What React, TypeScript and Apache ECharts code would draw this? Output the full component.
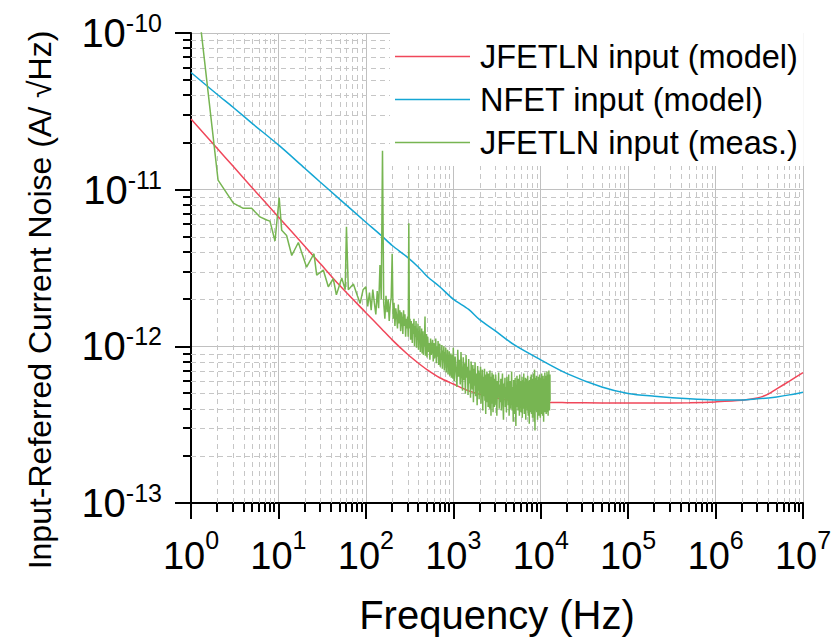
import React, { useEffect, useRef } from 'react';
import * as echarts from 'echarts';

// ---- data ----
const modelFreq = [1, 2, 3, 5, 10, 20, 30, 50, 100, 150, 200, 300, 400, 500, 700, 1000, 1500, 2000, 3000, 5000, 1e4, 2e4, 5e4, 1e5, 2e5, 5e5, 1e6, 2e6, 3e6, 4e6, 5e6, 7e6, 1e7];
const jfetModel = [2.83e-11, 1.83e-11, 1.42e-11, 1.03e-11, 6.7e-12, 4.35e-12, 3.38e-12, 2.45e-12, 1.64e-12, 1.3e-12, 1.1e-12, 8.9e-13, 7.8e-13, 7.1e-13, 6.3e-13, 5.75e-13, 5.2e-13, 4.95e-13, 4.7e-13, 4.5e-13, 4.4e-13, 4.37e-13, 4.35e-13, 4.35e-13, 4.35e-13, 4.37e-13, 4.42e-13, 4.52e-13, 4.68e-13, 4.95e-13, 5.35e-13, 6.0e-13, 6.8e-13];
const nfetModel = [5.6e-11, 4.05e-11, 3.37e-11, 2.65e-11, 1.93e-11, 1.37e-11, 1.12e-11, 8.7e-12, 6.2e-12, 5.1e-12, 4.4e-12, 3.7e-12, 3.2e-12, 2.8e-12, 2.4e-12, 2.0e-12, 1.72e-12, 1.48e-12, 1.26e-12, 1.02e-12, 8.2e-13, 6.7e-13, 5.5e-13, 5.0e-13, 4.8e-13, 4.62e-13, 4.55e-13, 4.55e-13, 4.62e-13, 4.68e-13, 4.75e-13, 4.9e-13, 5.1e-13];

// measured spectrum, low-frequency part: [Hz, A/sqrt(Hz)]
const measLow: [number, number][] = [
  [1.12, 2.2e-10], [2.04, 1.15e-11], [3.05, 8.2e-12], [3.96, 7.6e-12], [4.94, 7.6e-12], [6.15, 6.7e-12],
  [7.34, 6.4e-12], [8.0, 6.3e-12], [9.14, 4.7e-12], [10.2, 8.9e-12], [10.9, 5.5e-12], [12.4, 5.1e-12],
  [14.2, 3.8e-12], [16.9, 4.6e-12], [21, 3.2e-12], [25.5, 3.9e-12], [27.4, 2.85e-12], [32.6, 3.07e-12],
  [37.2, 2.4e-12], [42.4, 2.7e-12], [46, 2.13e-12], [53, 2.73e-12], [58, 2.3e-12], [60, 5.8e-12],
  [63, 2.3e-12], [72, 2.5e-12], [80, 2.1e-12], [86, 1.88e-12], [93, 2.3e-12],
];

// measured spectrum, FFT bins (values in pA/sqrt(Hz))
const binA_start = 100, binA_step = 5;
const binA_pA = [
  2.4, 1.8, 2.2, 1.7, 2.3, 1.9, 1.6, 2.25, 1.75, 3.3,
  2.0, 17.7, 1.9, 1.5, 2.1, 1.65, 2.0, 1.45, 1.85, 2.05,
  3.9, 1.5, 1.9, 1.35, 1.75, 1.55, 1.3, 1.85, 1.4, 1.7,
  1.25, 1.65, 1.45, 1.2, 1.7, 1.35, 1.6, 1.15, 1.5, 1.3,
  1.55, 1.15, 6.1, 1.3, 1.5, 1.1, 1.45, 1.25, 1.05, 1.4,
  1.2, 1.5, 1.0, 1.35, 1.15, 1.45, 0.98, 1.3, 1.1, 1.4,
  0.95, 1.25, 1.05, 1.35, 0.92, 1.2, 1.0, 1.3, 0.9, 1.15,
  1.25, 0.88, 1.1, 1.0, 1.2, 1.55, 0.87, 1.15, 0.95, 1.2,
];
const binB_start = 500, binB_step = 10;
const binB_pA = [
  0.85, 1.15, 0.92, 1.05, 0.82, 1.12, 0.88, 0.97, 1.1, 0.8,
  1.05, 0.84, 0.95, 1.12, 0.78, 1.0, 0.86, 1.08, 0.76, 0.96,
  1.04, 0.74, 0.9, 0.82, 1.02, 0.72, 0.94, 0.8, 1.0, 0.7,
  0.92, 0.78, 0.98, 0.68, 0.88, 0.76, 0.95, 0.66, 0.86, 0.74,
  0.93, 0.65, 0.84, 0.72, 0.9, 0.63, 0.82, 0.7, 0.88, 0.62,
];
const binC_start = 1000, binC_step = 25;
const binC_pA = [
  0.98, 0.6, 0.86, 0.7, 0.55, 0.95, 0.64, 0.82, 0.57, 0.92,
  0.66, 0.52, 0.85, 0.61, 0.78, 0.5, 0.88, 0.63, 0.74, 0.49,
  0.83, 0.58, 0.7, 0.47, 0.8, 0.62, 0.53, 0.76, 0.44, 0.72,
  0.56, 0.79, 0.48, 0.67, 0.6, 0.42, 0.75, 0.52, 0.7, 0.46,
  0.68, 0.5, 0.74, 0.43, 0.62, 0.55, 0.71, 0.39, 0.64, 0.48,
  0.58, 0.72, 0.45, 0.61, 0.37, 0.66, 0.52, 0.69, 0.44, 0.57,
  0.41, 0.67, 0.53, 0.63, 0.4, 0.7, 0.48, 0.59, 0.36, 0.64,
  0.5, 0.68, 0.43, 0.6, 0.38, 0.66, 0.47, 0.62, 0.41, 0.58,
];
const binD_start = 3000, binD_step = 50;
const binD_pA = [
  0.42, 0.66, 0.55, 0.36, 0.6, 0.47, 0.68, 0.4, 0.57, 0.44,
  0.62, 0.39, 0.52, 0.67, 0.45, 0.34, 0.58, 0.49, 0.63, 0.41,
  0.55, 0.38, 0.64, 0.47, 0.59, 0.42, 0.66, 0.36, 0.53, 0.6,
  0.4, 0.57, 0.45, 0.69, 0.39, 0.55, 0.48, 0.33, 0.61, 0.46,
  0.58, 0.37, 0.63, 0.44, 0.31, 0.56, 0.5, 0.65, 0.41, 0.54,
  0.39, 0.62, 0.47, 0.57, 0.36, 0.66, 0.43, 0.52, 0.6, 0.38,
  0.55, 0.44, 0.64, 0.35, 0.58, 0.48, 0.61, 0.4, 0.67, 0.45,
  0.37, 0.59, 0.51, 0.42, 0.63, 0.34, 0.56, 0.46, 0.62, 0.41,
  0.57, 0.39, 0.65, 0.48, 0.36, 0.6, 0.44, 0.55, 0.32, 0.61,
  0.47, 0.58, 0.38, 0.64, 0.43, 0.53, 0.66, 0.37, 0.56, 0.45,
  0.62, 0.35, 0.5, 0.59, 0.41, 0.67, 0.46, 0.54, 0.33, 0.6,
  0.71, 0.44, 0.29, 0.57, 0.48, 0.63, 0.39, 0.55, 0.42, 0.65,
  0.38, 0.58, 0.47, 0.61, 0.34, 0.56, 0.43, 0.64, 0.4, 0.52,
  0.6, 0.36, 0.55, 0.45, 0.66, 0.39, 0.49, 0.62, 0.35, 0.57,
  0.44, 0.63, 0.41, 0.54, 0.37, 0.67, 0.47, 0.58, 0.4, 0.61,
  0.36, 0.55, 0.48, 0.65, 0.42, 0.59, 0.33, 0.56, 0.46, 0.62,
  0.39, 0.6, 0.45, 0.68, 0.38, 0.53, 0.63, 0.41, 0.57, 0.44,
  0.65, 0.37, 0.58, 0.47, 0.61, 0.4, 0.69, 0.43, 0.55, 0.38,
  0.62, 0.45, 0.57, 0.36, 0.66, 0.48, 0.59, 0.41, 0.7, 0.5,
  0.44, 0.63, 0.39, 0.58, 0.47, 0.66, 0.45,
];
const PICO = 1e-12;

const seriesNames = ['JFETLN input (model)', 'NFET input (model)', 'JFETLN input (meas.)'];
const seriesColors = ['#f0475a', '#14a6d4', '#77b552'];

const X_MIN = 1;
const X_MAX = 1e7;
const Y_MIN = 1e-13;
const Y_MAX = 1e-10;
const minorMultipliers = [2, 3, 4, 5, 6, 7, 8, 9];
const xDecades = [1, 10, 100, 1e3, 1e4, 1e5, 1e6];
const yDecades = [1e-13, 1e-12, 1e-11];

const FONT = "'Liberation Sans', Arial, Helvetica, sans-serif";
const NARROW = "'Liberation Sans Narrow', 'Arial Narrow', 'Liberation Sans', Arial, sans-serif";

function binsToPairs(start: number, step: number, vals: number[]): [number, number][] {
  return vals.map((v, i) => [start + i * step, v * PICO] as [number, number]);
}

export default function App() {
  const ref = useRef<HTMLDivElement>(null);

  useEffect(() => {
    if (!ref.current) return;
    const chart = echarts.init(ref.current, null, { renderer: 'svg' });

    const measured: [number, number][] = [
      ...measLow,
      ...binsToPairs(binA_start, binA_step, binA_pA),
      ...binsToPairs(binB_start, binB_step, binB_pA),
      ...binsToPairs(binC_start, binC_step, binC_pA),
      ...binsToPairs(binD_start, binD_step, binD_pA),
    ];

    const xMinor: number[][] = [];
    xDecades.forEach((d) => minorMultipliers.forEach((m) => xMinor.push([d * m, Y_MIN])));
    const yMinor: number[][] = [];
    yDecades.forEach((d) => minorMultipliers.forEach((m) => yMinor.push([X_MIN, d * m])));

    const gridDash = { stroke: '#c6c6c6', lineWidth: 1, lineDash: [5, 4] };

    const option: any = {
      animation: false,
      backgroundColor: '#ffffff',
      grid: { left: 191, top: 33, width: 612, height: 470, containLabel: false },
      legend: {
        data: seriesNames,
        orient: 'vertical',
        left: 390,
        top: 33,
        padding: [7, 6, 7, 5],
        backgroundColor: '#ffffff',
        itemGap: 10,
        itemWidth: 75,
        itemHeight: 1.5,
        icon: 'rect',
        selectedMode: false,
        textStyle: { fontSize: 32.5, lineHeight: 31, fontFamily: FONT, color: '#000', padding: [0, 0, 0, 5] },
      },
      xAxis: {
        type: 'log',
        logBase: 10,
        min: X_MIN,
        max: X_MAX,
        splitNumber: 7,
        name: 'Frequency (Hz)',
        nameLocation: 'middle',
        nameGap: 92,
        nameTextStyle: { fontSize: 40, fontFamily: FONT, color: '#000' },
        axisLine: { show: true, onZero: false, lineStyle: { color: '#000', width: 2 } },
        axisTick: { show: true, inside: false, length: 16, lineStyle: { color: '#000', width: 2 } },
        splitLine: { show: true, lineStyle: { color: '#c0c0c0', width: 1 } },
        axisLabel: {
          margin: 24,
          formatter: (v: number) => `{b|10}{s|${Math.round(Math.log10(v))}}`,
          rich: {
            b: { fontSize: 38, lineHeight: 58, fontFamily: NARROW, color: '#000' },
            s: { fontSize: 25, lineHeight: 25, fontFamily: NARROW, color: '#000', verticalAlign: 'top' },
          },
        },
      },
      yAxis: {
        type: 'log',
        logBase: 10,
        min: Y_MIN,
        max: Y_MAX,
        splitNumber: 3,
        axisLine: { show: true, onZero: false, lineStyle: { color: '#000', width: 2 } },
        axisTick: { show: true, inside: false, length: 16, lineStyle: { color: '#000', width: 2 } },
        splitLine: { show: true, lineStyle: { color: '#c0c0c0', width: 1 } },
        axisLabel: {
          margin: 29,
          formatter: (v: number) => `{b|10}{s|${Math.round(Math.log10(v))}}`,
          rich: {
            b: { fontSize: 40, lineHeight: 45, fontFamily: FONT, color: '#000' },
            s: { fontSize: 25, lineHeight: 25, fontFamily: FONT, color: '#000', verticalAlign: 'top' },
          },
        },
      },
      graphic: [
        {
          type: 'text',
          x: 40,
          y: 300,
          rotation: Math.PI / 2,
          style: {
            text: 'Input-Referred Current Noise (A/ \u221AHz)',
            fontSize: 32,
            fontFamily: FONT,
            fill: '#000',
            align: 'center',
            verticalAlign: 'middle',
          },
        },
      ],
      series: [
        {
          type: 'custom',
          z: 1,
          silent: true,
          data: xMinor,
          renderItem: (_p: any, api: any) => {
            const v = api.value(0);
            const a = api.coord([v, Y_MIN]);
            const b = api.coord([v, Y_MAX]);
            const x = Math.round(a[0]) + 0.5;
            const xt = Math.round(a[0]);
            return {
              type: 'group',
              children: [
                { type: 'line', shape: { x1: x, y1: a[1], x2: x, y2: b[1] }, style: gridDash },
                { type: 'line', shape: { x1: xt, y1: a[1], x2: xt, y2: a[1] + 9 }, style: { stroke: '#000', lineWidth: 2 } },
              ],
            };
          },
        },
        {
          type: 'custom',
          z: 1,
          silent: true,
          data: yMinor,
          renderItem: (_p: any, api: any) => {
            const v = api.value(1);
            const a = api.coord([X_MIN, v]);
            const b = api.coord([X_MAX, v]);
            const y = Math.round(a[1]) + 0.5;
            const yt = Math.round(a[1]);
            return {
              type: 'group',
              children: [
                { type: 'line', shape: { x1: a[0], y1: y, x2: b[0], y2: y }, style: gridDash },
                { type: 'line', shape: { x1: a[0], y1: yt, x2: a[0] - 8, y2: yt }, style: { stroke: '#000', lineWidth: 2 } },
              ],
            };
          },
        },
        {
          name: seriesNames[0],
          type: 'line',
          data: modelFreq.map((f, i) => [f, jfetModel[i]]),
          showSymbol: false,
          symbol: 'none',
          smooth: 0.3,
          color: seriesColors[0],
          lineStyle: { width: 1.5, color: seriesColors[0] },
          z: 2,
        },
        {
          name: seriesNames[1],
          type: 'line',
          data: modelFreq.map((f, i) => [f, nfetModel[i]]),
          showSymbol: false,
          symbol: 'none',
          smooth: 0.3,
          color: seriesColors[1],
          lineStyle: { width: 1.5, color: seriesColors[1] },
          z: 2,
        },
        {
          name: seriesNames[2],
          type: 'line',
          data: measured,
          showSymbol: false,
          symbol: 'none',
          color: seriesColors[2],
          lineStyle: { width: 1.5, color: seriesColors[2] },
          clip: true,
          z: 3,
        },
      ],
    };

    chart.setOption(option);
    return () => chart.dispose();
  }, []);

  return (
    <div
      ref={ref}
      style={{ position: 'fixed', left: 0, top: 0, width: 838, height: 643, background: '#fff' }}
    />
  );
}
